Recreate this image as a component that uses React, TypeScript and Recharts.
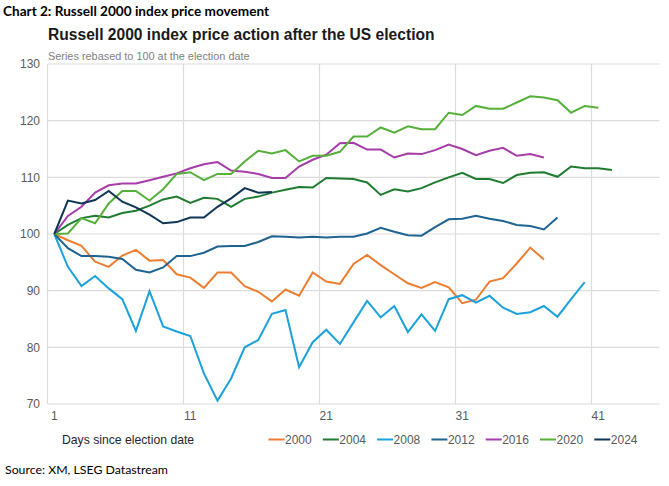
import React from 'react';
import { LineChart, Line, XAxis, YAxis, CartesianGrid, ReferenceLine } from 'recharts';

const days = [1,2,3,4,5,6,7,8,9,10,11,12,13,14,15,16,17,18,19,20,21,22,23,24,25,26,27,28,29,30,31,32,33,34,35,36,37,38,39,40,41,42];
const xTicks = [1, 11, 21, 31, 41];
const yTicks = [70, 80, 90, 100, 110, 120, 130];
const gridDays = [0.5, 10.5, 20.5, 30.5, 40.5];

const s2000 = [100, 98.9, 97.9, 95.1, 94.2, 96.2, 97.2, 95.3, 95.4, 92.9, 92.3, 90.5, 93.2, 93.2, 90.8, 89.8, 88.1, 90.2, 89.1, 93.2, 91.6, 91.2, 94.7, 96.3, 94.5, 92.9, 91.3, 90.5, 91.5, 90.6, 87.8, 88.4, 91.6, 92.2, 94.8, 97.6, 95.5];
const s2004 = [100, 101.6, 102.8, 103.2, 102.9, 103.7, 104.1, 105.0, 106.1, 106.6, 105.5, 106.4, 106.2, 104.8, 106.2, 106.6, 107.3, 107.8, 108.3, 108.2, 109.9, 109.8, 109.7, 109.1, 106.9, 107.9, 107.5, 108.1, 109.1, 110.0, 110.8, 109.7, 109.7, 109.0, 110.4, 110.8, 110.9, 110.1, 111.9, 111.6, 111.6, 111.3];
const s2008 = [100, 94.2, 90.8, 92.6, 90.4, 88.5, 82.9, 89.9, 83.7, 82.8, 82.0, 75.4, 70.6, 74.5, 80.0, 81.3, 85.9, 86.6, 76.5, 80.9, 83.1, 80.6, 84.4, 88.2, 85.3, 87.3, 82.7, 85.8, 82.9, 88.5, 89.2, 87.9, 89.1, 87.0, 85.9, 86.2, 87.3, 85.4, 88.5, 91.5];
const s2012 = [100, 97.5, 96.1, 96.1, 96.0, 95.6, 93.7, 93.2, 94.1, 96.1, 96.1, 96.7, 97.8, 97.9, 97.9, 98.6, 99.6, 99.5, 99.4, 99.5, 99.4, 99.5, 99.5, 100.1, 101.1, 100.4, 99.8, 99.7, 101.2, 102.6, 102.7, 103.2, 102.7, 102.3, 101.6, 101.4, 100.8, 102.9];
const s2016 = [100, 103.2, 104.8, 107.3, 108.6, 108.9, 108.9, 109.5, 110.1, 110.7, 111.6, 112.3, 112.7, 111.2, 111.0, 110.6, 109.9, 109.9, 111.9, 113.1, 114.0, 116.0, 116.1, 114.9, 114.9, 113.5, 114.2, 114.1, 114.8, 115.8, 115.0, 113.9, 114.7, 115.2, 113.8, 114.1, 113.5];
const s2020 = [100, 100.1, 102.8, 101.9, 105.4, 107.6, 107.6, 105.9, 107.9, 110.6, 110.9, 109.5, 110.6, 110.6, 112.8, 114.7, 114.2, 114.8, 112.8, 113.8, 113.8, 114.5, 117.2, 117.2, 118.8, 117.9, 119.0, 118.5, 118.5, 121.4, 121.0, 122.6, 122.1, 122.1, 123.2, 124.3, 124.1, 123.6, 121.4, 122.6, 122.3];
const s2024 = [100, 105.9, 105.4, 106.0, 107.6, 105.7, 104.7, 103.4, 101.9, 102.1, 102.9, 102.9, 104.8, 106.3, 108.1, 107.3, 107.4];

const seriesNames = ['2000', '2004', '2008', '2012', '2016', '2020', '2024'];
const seriesValues = [s2000, s2004, s2008, s2012, s2016, s2020, s2024];
const seriesColors = ['#ED7D31', '#1E7B30', '#1BA1DB', '#1F6391', '#A63CA8', '#55B03A', '#0E3555'];

const data = days.map((d, i) => {
  const row: Record<string, number> = { day: d };
  seriesNames.forEach((name, k) => {
    if (i < seriesValues[k].length) row['y' + name] = seriesValues[k][i];
  });
  return row;
});

const AX_FONT = '"Liberation Sans", Arial, sans-serif';

export default function App() {
  return (
    <div style={{ position: 'absolute', left: 0, top: 0, width: 669, height: 486, background: '#fff' }}>
      <LineChart
        width={669}
        height={486}
        data={data}
        margin={{ top: 64, right: 9.5, bottom: 0, left: 0 }}
        style={{ fontFamily: AX_FONT }}
      >
        <CartesianGrid vertical={false} stroke="#dcdcdc" strokeWidth={1.2} />
        {gridDays.map((g) => (
          <ReferenceLine key={g} x={g} stroke="#dcdcdc" strokeWidth={1.2} ifOverflow="visible" />
        ))}
        <XAxis
          dataKey="day"
          type="number"
          domain={[0.5, 45.5]}
          ticks={xTicks}
          axisLine={false}
          tickLine={false}
          tickSize={0}
          tickMargin={7}
          height={82}
          interval={0}
          tick={{ fill: '#595959', fontSize: 12, fontFamily: AX_FONT }}
        />
        <YAxis
          type="number"
          domain={[70, 130]}
          ticks={yTicks}
          axisLine={false}
          tickLine={false}
          tickSize={0}
          tickMargin={7.5}
          width={47.5}
          interval={0}
          tick={{ fill: '#595959', fontSize: 12, fontFamily: AX_FONT }}
        />
        {seriesNames.map((name, k) => (
          <Line
            key={name}
            type="linear"
            dataKey={'y' + name}
            stroke={seriesColors[k]}
            strokeWidth={2}
            dot={false}
            activeDot={false}
            isAnimationActive={false}
            connectNulls={false}
          />
        ))}
      </LineChart>
      <svg width={669} height={486} style={{ position: 'absolute', left: 0, top: 0, pointerEvents: 'none' }}>
        <text x={3} y={16} fontFamily="Lato, sans-serif" fontWeight={700} fontSize={13.6} fill="#000">
          Chart 2: Russell 2000 index price movement
        </text>
        <text x={48} y={40} fontFamily={AX_FONT} fontWeight={700} fontSize={15.6} fill="#1a1a1a">
          Russell 2000 index price action after the US election
        </text>
        <text x={48} y={60} fontFamily={AX_FONT} fontSize={10.9} fill="#7f7f7f">
          Series rebased to 100 at the election date
        </text>
        <text x={62} y={443.5} fontFamily={AX_FONT} fontSize={12.2} fill="#262626">
          Days since election date
        </text>
        {seriesNames.map((name, k) => {
          const x0 = 268.5 + k * 54.3;
          return (
            <g key={name}>
              <line x1={x0} x2={x0 + 16} y1={439.5} y2={439.5} stroke={seriesColors[k]} strokeWidth={2} />
              <text x={x0 + 16.5} y={443.5} fontFamily={AX_FONT} fontSize={12} fill="#595959">
                {name}
              </text>
            </g>
          );
        })}
        <text x={5} y={474} fontFamily="Lato, sans-serif" fontSize={12.3} fill="#000">
          Source: XM, LSEG Datastream
        </text>
      </svg>
    </div>
  );
}
